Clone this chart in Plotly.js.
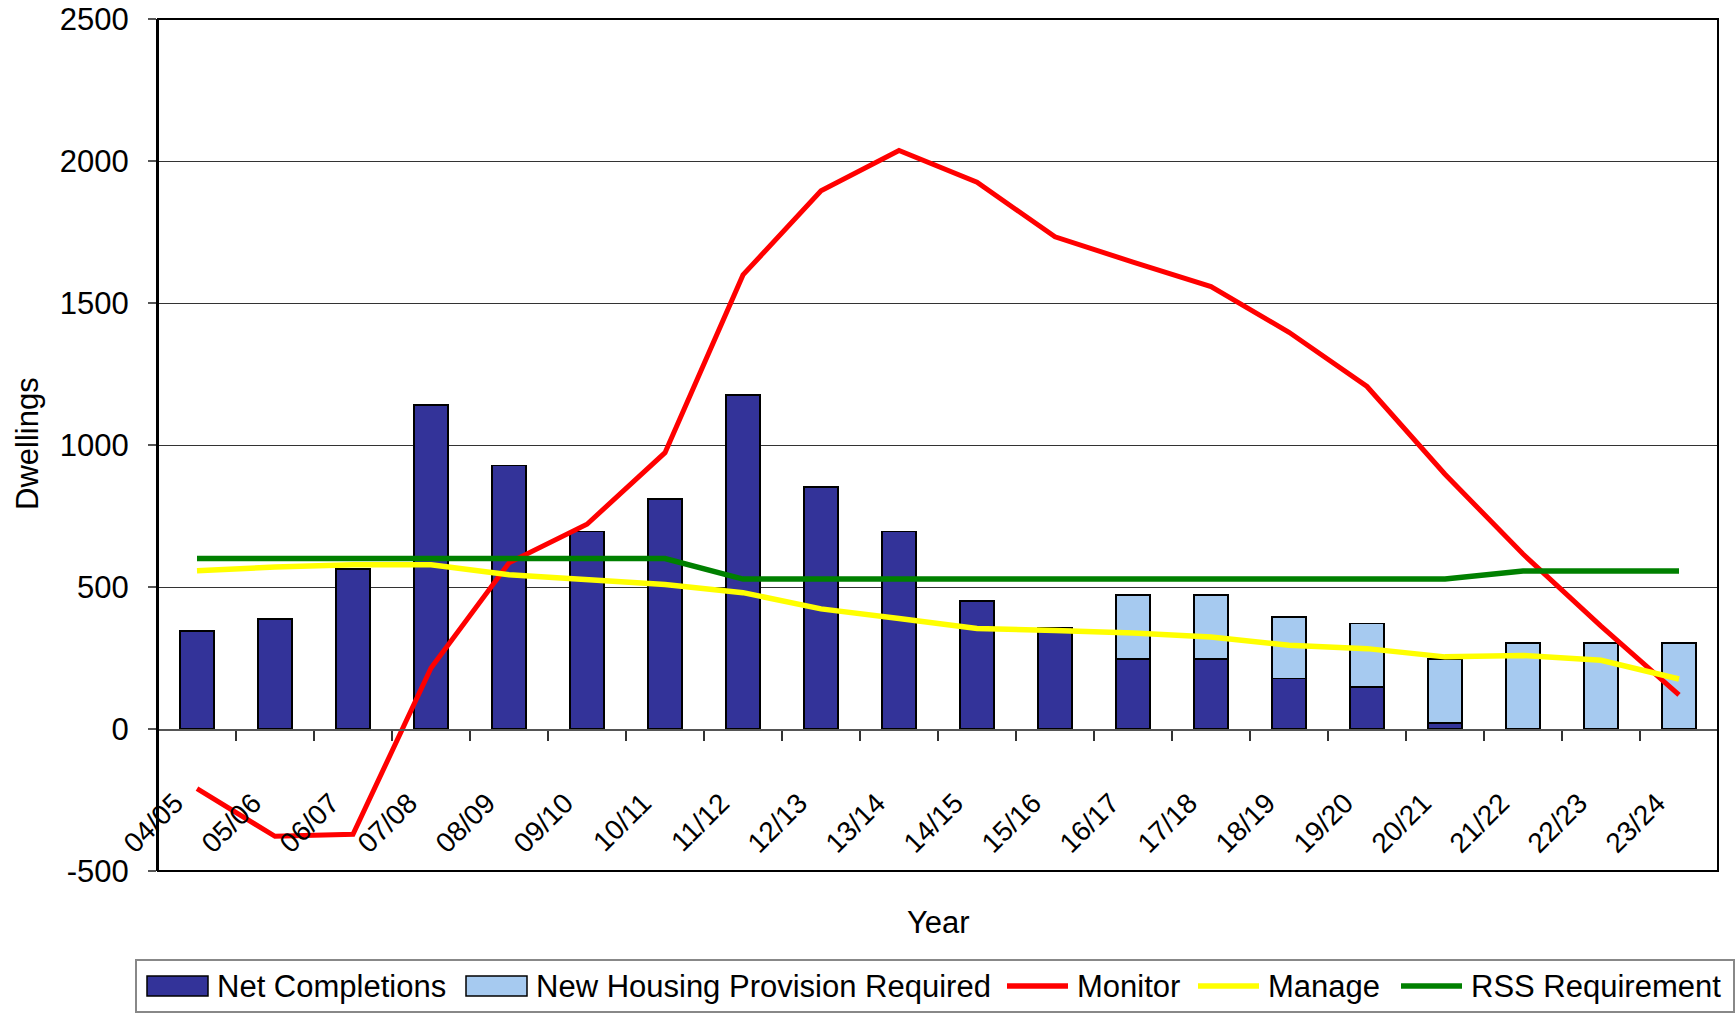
<!DOCTYPE html>
<html>
<head>
<meta charset="utf-8">
<script src="https://cdn.plot.ly/plotly-3.0.1.min.js"></script>
<style>
  html, body { margin: 0; padding: 0; background: #fff; }
  #chart { width: 1735px; height: 1013px; }
</style>
</head>
<body>
<div id="chart"></div>
<script>
// ---- Data ----
const categories = ['04/05','05/06','06/07','07/08','08/09','09/10','10/11','11/12','12/13','13/14',
                    '14/15','15/16','16/17','17/18','18/19','19/20','20/21','21/22','22/23','23/24'];
const netCompletions = [345, 387, 563, 1140, 928, 696, 809, 1176, 852, 696,
                        451, 358, 246, 246, 177, 148, 21, null, null, null];
const provisionRequired = [null, null, null, null, null, null, null, null, null, null,
                           null, null, 226, 226, 218, 223, 226, 302, 302, 302];
const monitor = [-210, -378, -371, 215, 585, 721, 973, 1599, 1895, 2037,
                 1925, 1733, 1644, 1558, 1397, 1206, 897, 616, 362, 120];
const manage = [557, 570, 578, 578, 543, 524, 509, 480, 423, 389,
                354, 347, 338, 324, 295, 283, 254, 259, 242, 176];
const rss = [600, 600, 600, 600, 600, 600, 600, 528, 528, 528,
             528, 528, 528, 528, 528, 528, 528, 556, 556, 556];
const yTicks = [-500, 0, 500, 1000, 1500, 2000, 2500];

const seriesNames = ['Net Completions', 'New Housing Provision Required', 'Monitor', 'Manage', 'RSS Requirement'];
const seriesColors = ['#333399', '#A6CAF0', '#FF0000', '#FFFF00', '#008000'];

// ---- Layout geometry (pixels) ----
const W = 1735, H = 1013;
const M = { l: 158, r: 17, t: 19, b: 142 };
const plotW = W - M.l - M.r, plotH = H - M.t - M.b;
const px = x => (x - M.l) / plotW;
const py = y => (H - M.b - y) / plotH;

const FONT = 'Liberation Sans, Arial, Helvetica, sans-serif';

const traces = [
  { type: 'bar', x: categories, y: netCompletions, name: seriesNames[0],
    marker: { color: seriesColors[0], line: { color: '#000', width: 1.5 } }, showlegend: false },
  { type: 'bar', x: categories, y: provisionRequired, name: seriesNames[1],
    marker: { color: seriesColors[1], line: { color: '#000', width: 1.5 } }, showlegend: false },
  { type: 'scatter', mode: 'lines', x: categories, y: monitor, name: seriesNames[2],
    line: { color: seriesColors[2], width: 5 }, showlegend: false },
  { type: 'scatter', mode: 'lines', x: categories, y: manage, name: seriesNames[3],
    line: { color: seriesColors[3], width: 5.5 }, showlegend: false },
  { type: 'scatter', mode: 'lines', x: categories, y: rss, name: seriesNames[4],
    line: { color: seriesColors[4], width: 5.5 }, showlegend: false }
];

// ---- Custom legend (matches the Excel-style legend box) ----
const shapes = [];
const annotations = [];
// plot frame
shapes.push({ type: 'rect', xref: 'paper', yref: 'paper', x0: 0, x1: 1, y0: 0, y1: 1,
              line: { color: '#000', width: 2 }, layer: 'above' });
// legend box
shapes.push({ type: 'rect', xref: 'paper', yref: 'paper', x0: px(136), x1: px(1734), y0: py(1012), y1: py(960),
              line: { color: '#888', width: 2 }, fillcolor: 'rgba(0,0,0,0)' });
const legendStarts = [147, 466, 1007, 1198, 1401];
const swW = 61, legY = 986;
seriesNames.forEach((name, i) => {
  const x0 = legendStarts[i];
  if (i < 2) {
    shapes.push({ type: 'rect', xref: 'paper', yref: 'paper', x0: px(x0), x1: px(x0 + swW),
                  y0: py(legY + 10), y1: py(legY - 10), fillcolor: seriesColors[i],
                  line: { color: '#000', width: 1.5 } });
  } else {
    shapes.push({ type: 'line', xref: 'paper', yref: 'paper', x0: px(x0), x1: px(x0 + swW),
                  y0: py(legY), y1: py(legY), line: { color: seriesColors[i], width: 5.5 } });
  }
  annotations.push({ xref: 'paper', yref: 'paper', x: px(x0 + swW + 7), y: py(legY),
                     xanchor: 'left', yanchor: 'middle', showarrow: false, text: name,
                     font: { family: FONT, size: 31, color: '#000' } });
});
// axis titles
annotations.push({ xref: 'paper', yref: 'paper', x: px(27), y: py(444), textangle: -90,
                   xanchor: 'center', yanchor: 'middle', showarrow: false, text: 'Dwellings',
                   font: { family: FONT, size: 31, color: '#000' } });
annotations.push({ xref: 'paper', yref: 'paper', x: 0.5, y: py(922),
                   xanchor: 'center', yanchor: 'middle', showarrow: false, text: 'Year',
                   font: { family: FONT, size: 31, color: '#000' } });

const yMin = -500, yMax = 2500;

const layout = {
  width: W, height: H,
  margin: M,
  paper_bgcolor: '#fff', plot_bgcolor: '#fff',
  font: { family: FONT, size: 31, color: '#000' },
  barmode: 'stack',
  bargap: 0.57,
  showlegend: false,
  xaxis: {
    type: 'category',
    anchor: 'free',
    position: (0 - yMin) / (yMax - yMin),
    showline: true, linecolor: '#555', linewidth: 1.5,
    ticks: 'outside', tickson: 'boundaries', ticklen: 10, tickcolor: '#333', tickwidth: 1.5,
    tickangle: -45,
    ticklabelstandoff: 45,
    ticklabelshift: -22,
    tickfont: { family: FONT, size: 28, color: '#000' },
    showgrid: false, zeroline: false,
    range: [-0.5, categories.length - 0.5]
  },
  yaxis: {
    range: [yMin, yMax],
    tickvals: yTicks,
    ticktext: yTicks.map(String),
    showgrid: true, gridcolor: '#333', gridwidth: 1,
    zeroline: false,
    showline: true, linecolor: '#000', linewidth: 2,
    ticks: 'outside', ticklen: 8, tickcolor: '#555', tickwidth: 1.5,
    ticklabelstandoff: 13,
    tickfont: { family: FONT, size: 31, color: '#000' }
  },
  shapes: shapes,
  annotations: annotations
};

Plotly.newPlot('chart', traces, layout, { staticPlot: true, displayModeBar: false });
</script>
</body>
</html>
